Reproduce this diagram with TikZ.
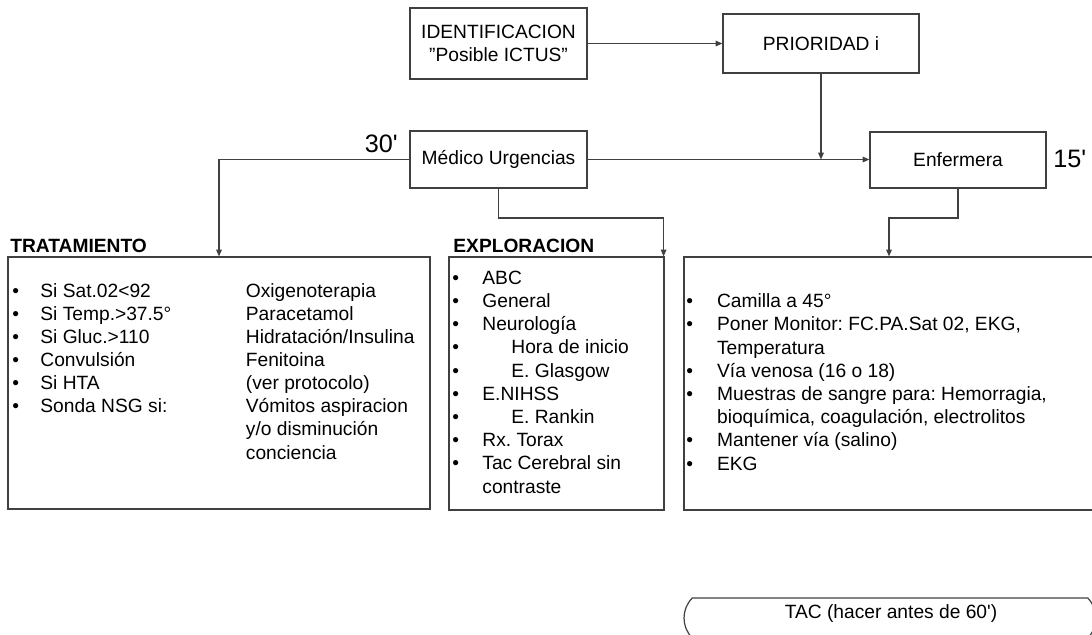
\documentclass[tikz,border=0pt]{standalone}
\usepackage{fontspec}
\newfontfamily\liber{Liberation Sans}
\usetikzlibrary{arrows.meta,shapes.misc}

\begin{document}
\begin{tikzpicture}[x=0.5pt, y=-0.5pt, >={Triangle[length=3.4pt,width=2.8pt]},
  font=\liber\fontsize{9.6}{11.5}\selectfont\frenchspacing,
  box/.style={draw=black!75, line width=0.6pt, inner sep=0pt, align=center},
  line/.style={draw=black!75, line width=0.6pt},
  txt/.style={anchor=base west, inner sep=0pt},
  head/.style={txt, font=\liber\fontsize{9.6}{11.5}\selectfont\bfseries},
  mins/.style={inner sep=0pt, font=\liber\fontsize{12.6}{15}\selectfont}]

\useasboundingbox (0,0) rectangle (1092,634);

% Top boxes
\node[box, minimum width=88.5pt, minimum height=35.5pt] (ident) at (498.5,43.5) {IDENTIFICACION\\”Posible ICTUS”};
\node[box, minimum width=98pt, minimum height=29.5pt] (prio) at (821,43.5) {PRIORIDAD i};
\node[box, minimum width=88.5pt, minimum height=28.5pt] (medico) at (498.5,159.5) {Médico Urgencias};
\node[box, minimum width=88pt, minimum height=28pt] (enf) at (958,160) {Enfermera};

% Times
\node[mins, anchor=base east] (tmedico) at (398,152) {30'};
\node[mins, anchor=base west] (tenf) at (1053,167) {15'};

% Big boxes
\node[box, minimum width=211pt, minimum height=126pt] (trat) at (219,383) {};
\node[box, minimum width=107.5pt, minimum height=126.5pt] (explo) at (556.5,383.5) {};
\node[box, minimum width=205pt, minimum height=126.5pt] (cuid) at (889,383.5) {};

% Headers
\node[head] (trathead) at (10,252) {TRATAMIENTO};
\node[head] (explohead) at (453,252.5) {EXPLORACION};

% Connectors
\coordinate (midrow) at (0,218);
\draw[line,->] (ident) -- (prio);
\draw[line,->] (medico.east) -- (medico.east -| enf.west);
\draw[line,->] (prio) -- (prio |- medico.east);
\draw[line,->] (medico.west) -| (trat.north);
\draw[line,->] (medico.south) -- (medico.south |- midrow) -| ([xshift=-0.5pt]explo.north east);
\draw[line,->] (enf.south) -- (enf.south |- midrow) -| (cuid.north);

% Tratamiento
\foreach \cond [count=\i from 0] in {Si Sat.02<92, Si Temp.>37.5°, Si Gluc.>110, Convulsión, Si HTA, Sonda NSG si:} {
  \node[txt] (tratbul-\i) at (12,297+23.15*\i) {\textbullet};
  \node[txt] (tratcond-\i) at (40,297+23.15*\i) {\cond};
}
\foreach \act [count=\i from 0] in {Oxigenoterapia, Paracetamol, Hidratación/Insulina, Fenitoina, {(ver protocolo)}, Vómitos aspiracion, y/o disminución, conciencia} {
  \node[txt] (tratact-\i) at (245.5,297+23.15*\i) {\act};
}

% Exploracion
\foreach \dx/\entry [count=\i from 0] in {0/ABC, 0/General, 0/Neurología, 29/Hora de inicio, 29/E. Glasgow, 0/E.NIHSS, 29/E. Rankin, 0/Rx. Torax, 0/Tac Cerebral sin, 0/contraste} {
  \node[txt] (explo-\i) at (482+\dx,284.3+23.2*\i) {\entry};
}
\foreach \i in {0,...,8}
  \node[txt] (explobul-\i) at (452,284.3+23.2*\i) {\textbullet};

% Enfermera
\foreach \entry [count=\i from 0] in {Camilla a 45°, {Poner Monitor: FC.PA.Sat 02, EKG,}, Temperatura, Vía venosa (16 o 18), {Muestras de sangre para: Hemorragia,}, {bioquímica, coagulación, electrolitos}, Mantener vía (salino), EKG} {
  \node[txt] (cuid-\i) at (716.7,307.7+23.2*\i) {\entry};
}
\foreach \i in {0,1,3,4,6,7}
  \node[txt] (cuidbul-\i) at (686,307.7+23.2*\i) {\textbullet};

% TAC
\node[box, rounded rectangle, rounded rectangle arc length=90, minimum width=206pt, minimum height=20pt] (tac) at (890,618) {};
\node[inner sep=0pt] (tactxt) at (891,614) {TAC (hacer antes de 60')};

\end{tikzpicture}
\end{document}
